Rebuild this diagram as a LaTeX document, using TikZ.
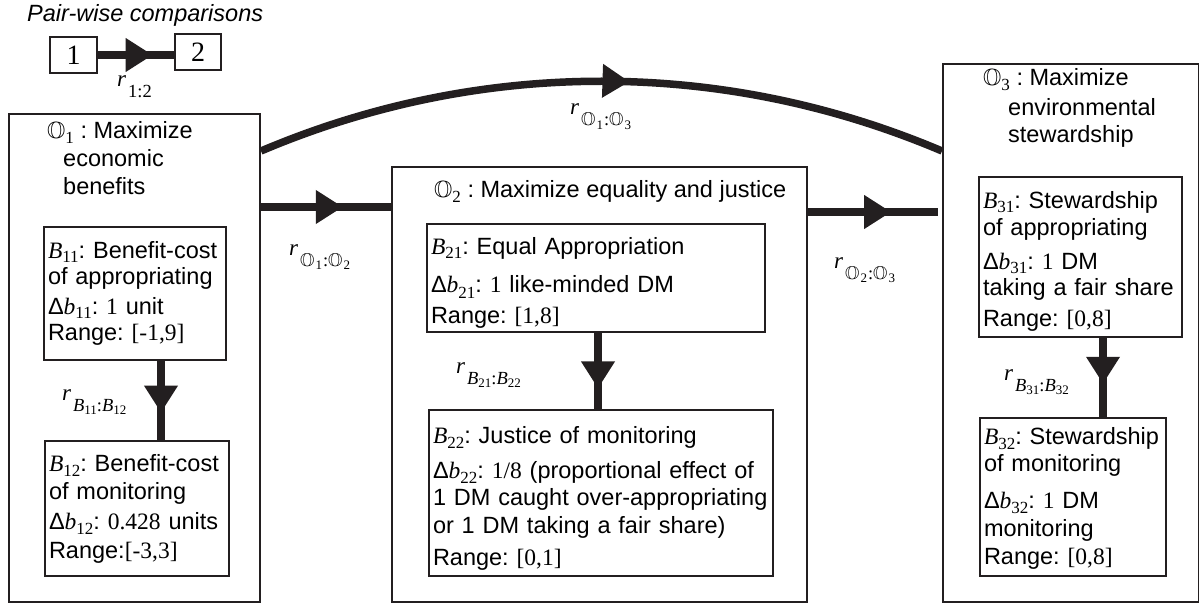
\documentclass[tikz,border=0pt]{standalone}
\usepackage{fontspec}
\usepackage{amssymb}
\setmainfont{Liberation Sans}
\newfontfamily\tms{Liberation Serif}
\usetikzlibrary{arrows.meta,decorations.markings,calc}
\frenchspacing

\definecolor{ink}{RGB}{35,31,32}

% serif numerals and symbols inside sans text
\newcommand{\tn}[1]{{\tms #1}}
\newcommand{\lowsub}[1]{\raisebox{-5pt}{\fontsize{17}{17}\selectfont\tms #1}}
\newcommand{\tinysub}[1]{\raisebox{-3.5pt}{\fontsize{13}{13}\selectfont\tms #1}}
\newcommand{\Bv}[1]{{\tms\itshape B}\lowsub{#1}}
\newcommand{\Dv}[1]{Δ{\tms\itshape b}\lowsub{#1}}
\newcommand{\Ov}[1]{$\mathbb{O}$\lowsub{#1}}
% small objective / criterion symbols used in relation labels
\newcommand{\Osm}[1]{$\mathbb{O}$\hspace{1pt}\tinysub{#1}\hspace{1pt}}
\newcommand{\Bsm}[1]{{\itshape B}\tinysub{#1}}
\newcommand{\rlab}[1]{{\fontsize{23}{23}\selectfont\tms\itshape r}\hspace{2pt}\raisebox{-11pt}{\fontsize{18.5}{18.5}\selectfont\tms #1}}

\begin{document}
\begin{tikzpicture}[x=1pt,y=-1pt,
  txt/.style={font=\fontsize{23.5}{28}\selectfont},
  outerbox/.style={draw=ink, line width=2pt, inner sep=0pt, anchor=north west},
  critbox/.style={draw=ink, line width=2pt, anchor=north west, inner xsep=4pt,
    inner ysep=0pt, align=left, txt},
  numbox/.style={draw=ink, line width=2pt, inner sep=0pt, minimum height=36pt,
    font=\fontsize{28}{28}\selectfont\tms},
  title/.style={anchor=north west, inner sep=0pt, align=left, txt},
  rel/.style={anchor=base west, inner sep=0pt},
  link/.style={draw=ink, line width=7.5pt},
  tipat/.style={postaction={decorate, decoration={markings,
    mark=at position #1 with {\arrow{Triangle[length=27pt,width=32pt]}}}}}
]
\useasboundingbox (0,0) rectangle (1199,604);

% legend: pair-wise comparison
\node[anchor=base west, inner sep=0pt, txt, font=\fontsize{23.5}{28}\selectfont\itshape]
  (legend) at (27,22) {Pair-wise comparisons};
\node[numbox, minimum width=47pt] (n1) at (73.5,55) {1};
\node[numbox, minimum width=46pt] (n2) at (198,52) {2};
\draw[link, tipat=0.72] (n1.east) -- (n2.west |- n1.east);
\node[rel] (r12) at (117,87) {\rlab{1:2}};

% objectives
\node[outerbox, minimum width=251pt, minimum height=488pt] (O1) at (8,113) {};
\node[outerbox, minimum width=415pt, minimum height=435pt] (O2) at (391,166) {};
\node[outerbox, minimum width=256pt, minimum height=538pt] (O3) at (942,63) {};

\node[title] (O1t) at (47,120)
  {\rule{0pt}{18pt}\Ov{1} : Maximize\\\hspace*{16pt}economic\\\hspace*{16pt}benefits};
\node[title] (O2t) at (434,179)
  {\rule{0pt}{18pt}\Ov{2} : Maximize equality and justice};
\node[title] (O3t) at (983,67)
  {\rule{0pt}{18pt}\Ov{3} : Maximize\\[2pt]\hspace*{25pt}environmental\\[-1pt]\hspace*{25pt}stewardship};

% criteria
\node[critbox, text width=174pt, minimum height=133pt] (B11) at (43,226)
  {\rule{0pt}{19pt}\mbox{\Bv{11}: Benefit-cost}\\[-2pt]
   \mbox{of appropriating}\\[2pt]
   \mbox{\Dv{11}: \tn{1} unit}\\[-2pt]
   \mbox{Range: \tn{[-1,9]}}\rule[-8pt]{0pt}{8pt}};
\node[critbox, text width=176pt, minimum height=135pt] (B12) at (44,440)
  {\rule{0pt}{20pt}\mbox{\Bv{12}: Benefit-cost}\\
   \mbox{of monitoring}\\[2pt]
   \mbox{\Dv{12}: \tn{0.428} units}\\[1pt]
   \mbox{Range:\tn{[-3,3]}}\rule[-8pt]{0pt}{8pt}};
\node[critbox, text width=330pt, minimum height=108pt] (B21) at (426,223)
  {\rule{0pt}{30pt}\mbox{\Bv{21}: Equal Appropriation}\\[11pt]
   \mbox{\Dv{21}: \tn{1} like-minded DM}\\[3pt]
   \mbox{Range: \tn{[1,8]}}\rule[-8pt]{0pt}{8pt}};
\node[critbox, text width=336pt, minimum height=166pt] (B22) at (428,409)
  {\rule{0pt}{30pt}\mbox{\Bv{22}: Justice of monitoring}\\[7pt]
   \mbox{\Dv{22}: \tn{1/8} (proportional effect of}\\[-1pt]
   \mbox{1 DM caught over-appropriating}\\
   \mbox{or 1 DM taking a fair share)}\\[4pt]
   \mbox{Range: \tn{[0,1]}}\rule[-8pt]{0pt}{8pt}};
\node[critbox, text width=195pt, minimum height=160pt] (B31) at (978,176)
  {\rule{0pt}{28pt}\mbox{\Bv{31}: Stewardship}\\
   \mbox{of appropriating}\\[5pt]
   \mbox{\Dv{31}: \tn{1} DM}\\[-1pt]
   \mbox{taking a fair share}\\[2pt]
   \mbox{Range: \tn{[0,8]}}\rule[-8pt]{0pt}{8pt}};
\node[critbox, text width=178pt, minimum height=158pt] (B32) at (979,417)
  {\rule{0pt}{22pt}\mbox{\Bv{32}: Stewardship}\\[-1pt]
   \mbox{of monitoring}\\[9pt]
   \mbox{\Dv{32}: \tn{1} DM}\\
   \mbox{monitoring}\\
   \mbox{Range: \tn{[0,8]}}\rule[-8pt]{0pt}{8pt}};

% relations between objectives
\coordinate (yc) at (0,151);
\coordinate (y12) at (0,207);
\coordinate (y23) at (0,212);
\draw[link, tipat=0.54] (O1.east |- yc) .. controls +(219,-93) and +(-219,-93) .. (O3.west |- yc);
\draw[link, tipat=0.63] (O1.east |- y12) -- (O2.west |- y12);
\draw[link, tipat=0.64] (O2.east |- y23) -- ($(O3.west |- y23)+(-4,0)$);
\node[rel] (rO13) at (570,115) {\rlab{\Osm{1}:\Osm{3}}};
\node[rel] (rO12) at (289,255) {\rlab{\Osm{1}:\Osm{2}}};
\node[rel] (rO23) at (834,268) {\rlab{\Osm{2}:\Osm{3}}};

% relations between criteria
\coordinate (x1) at (161,0);
\coordinate (x2) at (598,0);
\coordinate (x3) at (1103,0);
\draw[link, tipat=0.654] (B11.south -| x1) -- (B12.north -| x1);
\draw[link, tipat=0.73] (B21.south -| x2) -- (B22.north -| x2);
\draw[link, tipat=0.58] (B31.south -| x3) -- (B32.north -| x3);
\node[rel] (rB1) at (62,400) {\rlab{\Bsm{11}:\Bsm{12}}};
\node[rel] (rB2) at (456,373) {\rlab{\Bsm{21}:\Bsm{22}}};
\node[rel] (rB3) at (1004,380) {\rlab{\Bsm{31}:\Bsm{32}}};
\end{tikzpicture}
\end{document}
